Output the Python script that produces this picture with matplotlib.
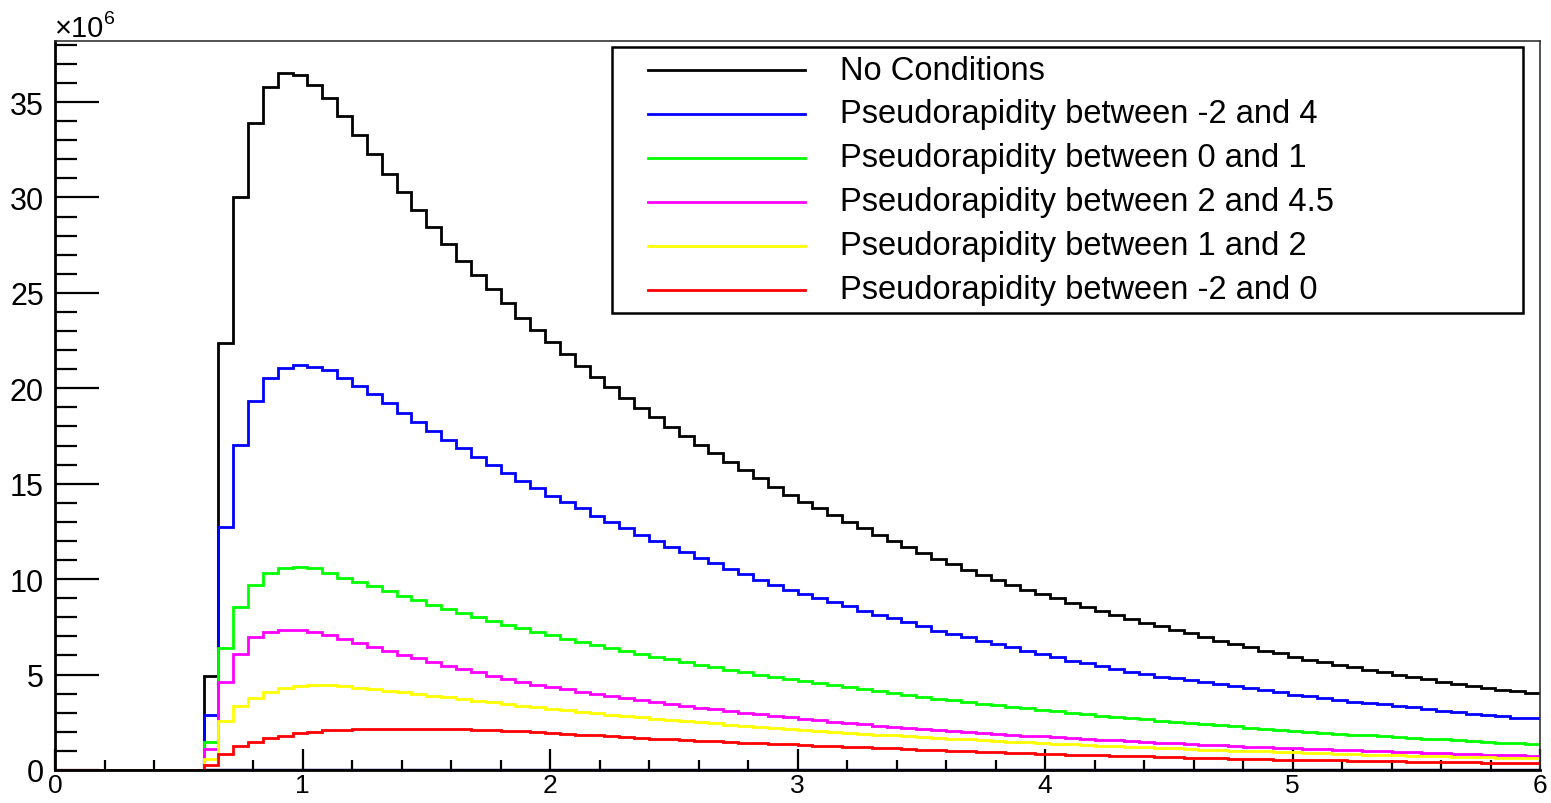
"""
Transverse-momentum style histogram with pseudorapidity cuts (ROOT look-alike)
"""
import numpy as np
import matplotlib
matplotlib.use('Agg')
import matplotlib.pyplot as plt
from matplotlib.lines import Line2D
from matplotlib.patches import Rectangle
from matplotlib.ticker import MultipleLocator

plt.rcParams['font.family'] = ['Liberation Sans', 'DejaVu Sans']

# ============== Data: 100 bins over [0, 6], counts in units of 10^6 ==============
x_min, x_max, n_bins = 0.0, 6.0, 100

no_conditions = [
    0, 0, 0, 0, 0, 0, 0, 0, 0, 0,
    4.94, 22.4, 30.0, 33.9, 35.8, 36.5, 36.4, 35.9, 35.2, 34.26,
    33.3, 32.3, 31.25, 30.3, 29.33, 28.43, 27.55, 26.68, 25.93, 25.2,
    24.45, 23.69, 23.05, 22.44, 21.78, 21.18, 20.6, 20.05, 19.5, 18.98,
    18.49, 17.98, 17.51, 17.02, 16.59, 16.15, 15.72, 15.28, 14.81, 14.4,
    14.05, 13.71, 13.37, 13.01, 12.66, 12.33, 12.0, 11.66, 11.35, 11.05,
    10.77, 10.49, 10.21, 9.97, 9.71, 9.45, 9.2, 8.99, 8.76, 8.52,
    8.31, 8.12, 7.91, 7.72, 7.54, 7.35, 7.17, 6.98, 6.77, 6.58,
    6.42, 6.26, 6.13, 5.92, 5.77, 5.64, 5.52, 5.38, 5.26, 5.12,
    4.99, 4.88, 4.75, 4.63, 4.52, 4.42, 4.31, 4.21, 4.12, 4.02,
]
eta_m2_4 = [
    0, 0, 0, 0, 0, 0, 0, 0, 0, 0,
    2.88, 12.71, 17.02, 19.35, 20.55, 21.06, 21.2, 21.13, 20.95, 20.55,
    20.13, 19.68, 19.21, 18.7, 18.26, 17.78, 17.29, 16.85, 16.38, 15.98,
    15.56, 15.16, 14.76, 14.37, 14.06, 13.71, 13.32, 12.98, 12.66, 12.33,
    12.01, 11.7, 11.4, 11.12, 10.85, 10.55, 10.25, 9.98, 9.7, 9.45,
    9.22, 8.99, 8.78, 8.57, 8.35, 8.14, 7.95, 7.74, 7.53, 7.3,
    7.12, 6.95, 6.77, 6.6, 6.43, 6.25, 6.08, 5.9, 5.73, 5.59,
    5.43, 5.29, 5.15, 5.01, 4.89, 4.8, 4.7, 4.6, 4.5, 4.4,
    4.29, 4.17, 4.07, 3.95, 3.86, 3.78, 3.67, 3.58, 3.51, 3.44,
    3.37, 3.28, 3.19, 3.1, 3.02, 2.95, 2.88, 2.81, 2.75, 2.72,
]
eta_0_1 = [
    0, 0, 0, 0, 0, 0, 0, 0, 0, 0,
    1.45, 6.37, 8.52, 9.69, 10.32, 10.58, 10.65, 10.57, 10.32, 10.07,
    9.86, 9.62, 9.39, 9.13, 8.89, 8.64, 8.43, 8.21, 8.0, 7.8,
    7.6, 7.42, 7.24, 7.06, 6.89, 6.72, 6.56, 6.4, 6.24, 6.09,
    5.94, 5.8, 5.66, 5.52, 5.39, 5.26, 5.13, 5.0, 4.88, 4.77,
    4.68, 4.56, 4.45, 4.34, 4.24, 4.13, 4.03, 3.93, 3.84, 3.74,
    3.65, 3.56, 3.48, 3.39, 3.31, 3.23, 3.15, 3.07, 3.0, 2.92,
    2.85, 2.78, 2.71, 2.65, 2.58, 2.52, 2.46, 2.4, 2.34, 2.28,
    2.22, 2.17, 2.11, 2.06, 2.01, 1.96, 1.91, 1.86, 1.81, 1.77,
    1.72, 1.68, 1.64, 1.6, 1.56, 1.52, 1.48, 1.44, 1.4, 1.37,
]
eta_2_45 = [
    0, 0, 0, 0, 0, 0, 0, 0, 0, 0,
    1.1, 4.6, 6.08, 6.95, 7.21, 7.32, 7.32, 7.21, 7.07, 6.86,
    6.65, 6.46, 6.25, 6.04, 5.85, 5.64, 5.46, 5.29, 5.12, 4.94,
    4.77, 4.59, 4.46, 4.34, 4.22, 4.1, 3.98, 3.87, 3.76, 3.66,
    3.56, 3.46, 3.36, 3.27, 3.18, 3.09, 3.0, 2.92, 2.84, 2.76,
    2.68, 2.61, 2.53, 2.46, 2.39, 2.33, 2.27, 2.21, 2.16, 2.1,
    2.05, 2.0, 1.95, 1.9, 1.85, 1.8, 1.76, 1.71, 1.67, 1.63,
    1.59, 1.55, 1.51, 1.47, 1.43, 1.4, 1.36, 1.33, 1.29, 1.26,
    1.23, 1.2, 1.17, 1.14, 1.11, 1.08, 1.05, 1.03, 1.0, 0.98,
    0.95, 0.93, 0.9, 0.88, 0.86, 0.84, 0.81, 0.79, 0.77, 0.75,
]
eta_1_2 = [
    0, 0, 0, 0, 0, 0, 0, 0, 0, 0,
    0.6, 2.55, 3.37, 3.76, 4.07, 4.3, 4.42, 4.47, 4.45, 4.38,
    4.31, 4.24, 4.14, 4.07, 3.98, 3.89, 3.81, 3.72, 3.63, 3.55,
    3.46, 3.37, 3.29, 3.21, 3.13, 3.05, 2.98, 2.9, 2.83, 2.76,
    2.69, 2.63, 2.56, 2.5, 2.44, 2.38, 2.32, 2.26, 2.21, 2.15,
    2.1, 2.05, 2.0, 1.96, 1.91, 1.86, 1.82, 1.77, 1.73, 1.69,
    1.64, 1.6, 1.56, 1.53, 1.49, 1.45, 1.42, 1.38, 1.35, 1.32,
    1.28, 1.25, 1.22, 1.19, 1.16, 1.13, 1.1, 1.07, 1.05, 1.02,
    1.0, 0.97, 0.95, 0.92, 0.9, 0.88, 0.85, 0.83, 0.81, 0.79,
    0.77, 0.75, 0.73, 0.71, 0.7, 0.68, 0.66, 0.64, 0.63, 0.61,
]
eta_m2_0 = [
    0, 0, 0, 0, 0, 0, 0, 0, 0, 0,
    0.25, 0.86, 1.27, 1.48, 1.66, 1.8, 1.92, 2.01, 2.07, 2.11,
    2.13, 2.15, 2.15, 2.16, 2.16, 2.16, 2.15, 2.14, 2.12, 2.09,
    2.06, 2.02, 1.98, 1.93, 1.89, 1.85, 1.81, 1.77, 1.73, 1.69,
    1.65, 1.61, 1.57, 1.54, 1.5, 1.47, 1.43, 1.4, 1.37, 1.34,
    1.31, 1.28, 1.25, 1.22, 1.19, 1.16, 1.13, 1.1, 1.07, 1.04,
    1.01, 0.98, 0.96, 0.93, 0.91, 0.88, 0.86, 0.84, 0.81, 0.79,
    0.77, 0.75, 0.73, 0.71, 0.69, 0.67, 0.65, 0.63, 0.62, 0.6,
    0.58, 0.57, 0.55, 0.54, 0.52, 0.51, 0.5, 0.48, 0.47, 0.46,
    0.45, 0.44, 0.43, 0.42, 0.41, 0.4, 0.39, 0.38, 0.38, 0.37,
]

series = [no_conditions, eta_m2_4, eta_0_1, eta_2_45, eta_1_2, eta_m2_0]
labels = ['No Conditions', 'Pseudorapidity between -2 and 4',
          'Pseudorapidity between 0 and 1', 'Pseudorapidity between 2 and 4.5',
          'Pseudorapidity between 1 and 2', 'Pseudorapidity between -2 and 0']
colors = ['#000000', '#0000ff', '#00ff00', '#ff00ff', '#ffff00', '#ff0000']

# ============== Figure ==============
W, H = 1551, 804
fig = plt.figure(figsize=(W / 100, H / 100), dpi=100)
ax = fig.add_axes([55 / W, 1 - 771 / H, (1540 - 55) / W, (771 - 42) / H])

edges = np.linspace(x_min, x_max, n_bins + 1)

# dark line along zero where the histograms start
first = next(i for i, v in enumerate(no_conditions) if v > 0)
ax.hlines(0, edges[first], edges[-1], color='#101060', lw=2.5, zorder=1)

for vals, col in zip(series, colors):
    ax.stairs(vals, edges, color=col, lw=2.0, baseline=None, zorder=2)

ax.set_xlim(x_min, x_max)
ax.set_ylim(0, 38.2)

ax.xaxis.set_major_locator(MultipleLocator(1))
ax.xaxis.set_minor_locator(MultipleLocator(0.2))
ax.yaxis.set_major_locator(MultipleLocator(5))
ax.yaxis.set_minor_locator(MultipleLocator(1))
ax.tick_params(axis='both', which='both', direction='in', top=False, right=False,
               width=1.6, color='black')
ax.tick_params(axis='y', which='major', length=32, pad=8, labelsize=22)
ax.tick_params(axis='y', which='minor', length=16)
ax.tick_params(axis='x', which='major', length=15, pad=2, labelsize=19)
ax.tick_params(axis='x', which='minor', length=7.5)

for side in ['left', 'bottom']:
    ax.spines[side].set_linewidth(2.0)
for side in ['top', 'right']:
    ax.spines[side].set_linewidth(1.2)
    ax.spines[side].set_color('#333333')

# exponent label of the y axis
fig.text(55 / W, 1 - 37 / H, '×10', fontsize=21, ha='left', va='baseline')
fig.text(104 / W, 1 - 24 / H, '6', fontsize=14, ha='left', va='baseline')

# ============== Legend (ROOT style box) ==============
def fx(px):
    return px / W

def fy(py):
    return 1 - py / H

fig.add_artist(Rectangle((fx(612), fy(314)), fx(1523) - fx(612), fy(48) - fy(314),
                         transform=fig.transFigure, fill=False, ec='black', lw=1.8))
row_y = [71, 115, 159, 203, 247, 291]
for ry, lab, col in zip(row_y, labels, colors):
    fig.add_artist(Line2D([fx(648), fx(805)], [fy(ry), fy(ry)], transform=fig.transFigure,
                          color=col, lw=2.0))
    fig.text(fx(840), fy(ry), lab, fontsize=23.5, ha='left', va='center')

plt.savefig('out.png', dpi=100)
plt.close()
